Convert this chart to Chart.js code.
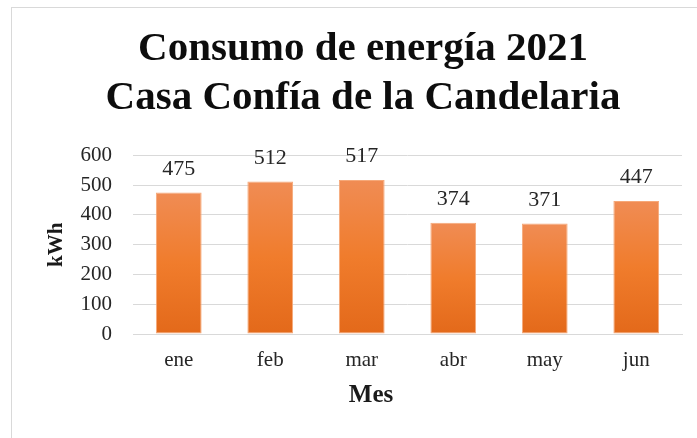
<!DOCTYPE html>
<html>
<head>
<meta charset="utf-8">
<script src="https://cdn.jsdelivr.net/npm/chart.js@4/dist/chart.umd.min.js"></script>
<style>
  html, body { margin: 0; padding: 0; width: 697px; height: 438px; overflow: hidden; background: #fff; }
  #frame { position: absolute; left: 11px; top: 7px; width: 720px; height: 440px; border-left: 1px solid #d9d9d9; border-top: 1px solid #d9d9d9; }
  #wrap { position: absolute; left: 12px; top: 8px; width: 700px; height: 430px; }
</style>
</head>
<body>
<div id="frame"></div>
<div id="wrap"><canvas id="c" width="700" height="430"></canvas></div>
<script>
const months = ['ene', 'feb', 'mar', 'abr', 'may', 'jun'];
const consumo = [475, 512, 517, 374, 371, 447];
const titleLines = ['Consumo de energía 2021', 'Casa Confía de la Candelaria'];
const yTitle = 'kWh';
const xTitle = 'Mes';

const SERIF = "'Liberation Serif', 'DejaVu Serif', serif";

const valueLabels = {
  id: 'valueLabels',
  afterDatasetsDraw(chart) {
    const ctx = chart.ctx;
    const meta = chart.getDatasetMeta(0);
    ctx.save();
    ctx.font = '22px ' + SERIF;
    ctx.fillStyle = '#262626';
    ctx.textAlign = 'center';
    ctx.textBaseline = 'alphabetic';
    meta.data.forEach((bar, i) => {
      ctx.fillText(String(chart.data.datasets[0].data[i]), bar.x, bar.y - 18);
    });
    ctx.restore();
  }
};

const xAxisTitle = {
  id: 'xAxisTitle',
  afterDraw(chart) {
    const ctx = chart.ctx;
    ctx.save();
    ctx.font = 'bold 25px ' + SERIF;
    ctx.fillStyle = '#1a1a1a';
    ctx.textAlign = 'center';
    ctx.textBaseline = 'alphabetic';
    ctx.fillText(xTitle, chart.width / 2 + 9, chart.chartArea.bottom + 68);
    ctx.restore();
  }
};

function barGradient(context) {
  const chart = context.chart;
  const area = chart.chartArea;
  if (!area) return '#ee7d30';
  const v = context.raw;
  const top = chart.scales.y.getPixelForValue(v);
  const bottom = chart.scales.y.getPixelForValue(0);
  const g = chart.ctx.createLinearGradient(0, top, 0, bottom);
  g.addColorStop(0, '#f08c54');
  g.addColorStop(0.5, '#f07c2c');
  g.addColorStop(1, '#e3691a');
  return g;
}

new Chart(document.getElementById('c'), {
  type: 'bar',
  data: {
    labels: months,
    datasets: [{
      data: consumo,
      backgroundColor: barGradient,
      borderColor: '#f6a878',
      borderWidth: 1,
      borderSkipped: false,
      categoryPercentage: 1.0,
      barPercentage: 0.5
    }]
  },
  options: {
    responsive: false,
    animation: false,
    devicePixelRatio: 1,
    layout: { padding: { left: 32, right: 30, top: 0, bottom: 0 } },
    plugins: {
      legend: { display: false },
      tooltip: { enabled: false },
      title: {
        display: true,
        text: titleLines,
        color: '#0d0d0d',
        font: { family: SERIF, size: 41, weight: 'bold', lineHeight: 1.2 },
        padding: { top: 17, bottom: 32 }
      }
    },
    scales: {
      x: {
        grid: { display: false, drawTicks: false },
        border: { display: true, color: '#d9d9d9', width: 1 },
        ticks: { color: '#262626', font: { family: SERIF, size: 21 }, padding: 14 },
        afterFit(scale) { scale.height = 104; }
      },
      y: {
        min: 0, max: 600,
        grid: { color: '#d9d9d9', lineWidth: 1, drawTicks: false },
        border: { display: false },
        ticks: { stepSize: 100, color: '#262626', font: { family: SERIF, size: 21 }, padding: 21 },
        title: { display: true, text: yTitle, color: '#1a1a1a', font: { family: SERIF, size: 21, weight: 'bold' }, padding: { top: 0, bottom: 0 } },
        afterFit(scale) { scale.width = 89; }
      }
    }
  },
  plugins: [valueLabels, xAxisTitle]
});
</script>
</body>
</html>
